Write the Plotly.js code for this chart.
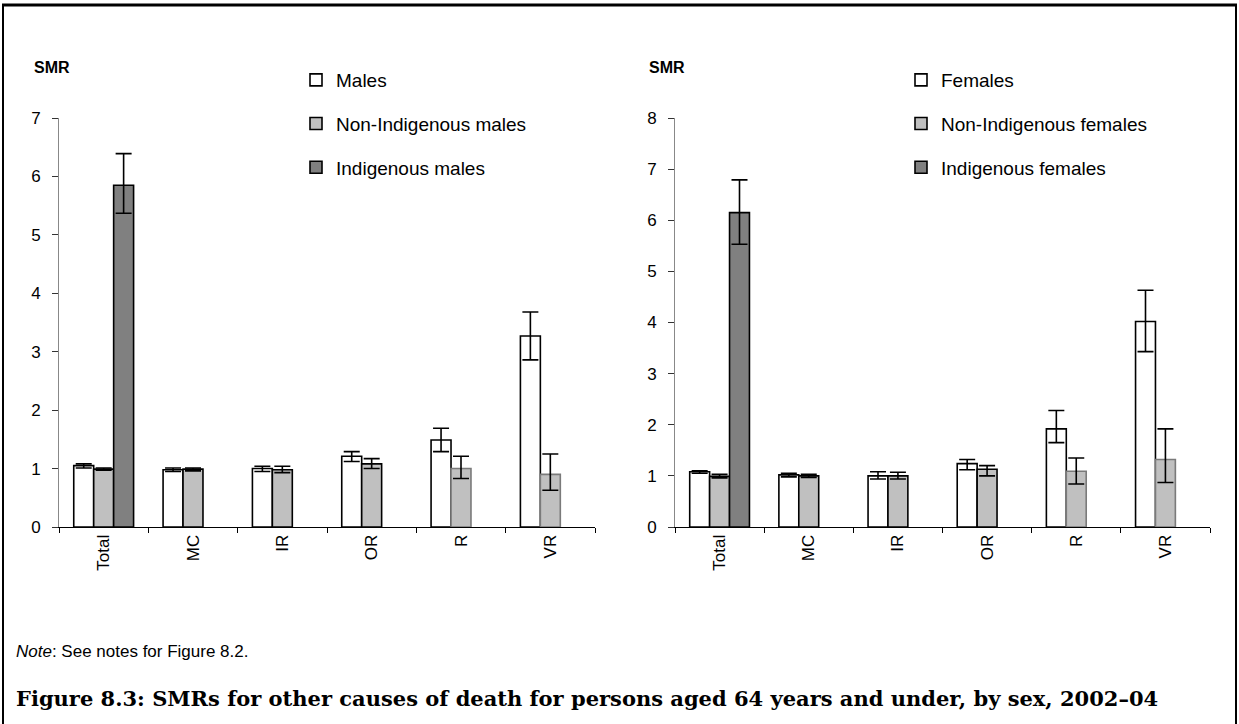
<!DOCTYPE html>
<html>
<head>
<meta charset="utf-8">
<script src="https://cdn.plot.ly/plotly-3.0.1.min.js"></script>
<style>html,body{margin:0;padding:0;background:#fff;}#chart{width:1239px;height:724px;}</style>
</head>
<body>
<div id="chart"></div>
<script>
// ---- data ----
const categories = ['Total', 'MC', 'IR', 'OR', 'R', 'VR'];

// Males panel
const males      = [1.05, 0.98, 1.00, 1.21, 1.49, 3.27];
const malesLo    = [1.01, 0.95, 0.95, 1.12, 1.29, 2.86];
const malesHi    = [1.08, 1.01, 1.04, 1.29, 1.69, 3.68];
const nonIndM    = [0.99, 0.99, 0.98, 1.08, 1.00, 0.90];
const nonIndMLo  = [0.97, 0.96, 0.93, 1.00, 0.83, 0.63];
const nonIndMHi  = [1.01, 1.01, 1.04, 1.17, 1.21, 1.25];
const indM       = [5.85, null, null, null, null, null];
const indMLo     = [5.37, null, null, null, null, null];
const indMHi     = [6.39, null, null, null, null, null];

// Females panel
const females    = [1.08, 1.02, 1.00, 1.24, 1.92, 4.02];
const femalesLo  = [1.05, 0.98, 0.94, 1.12, 1.65, 3.43];
const femalesHi  = [1.10, 1.05, 1.08, 1.32, 2.28, 4.63];
const nonIndF    = [0.99, 1.00, 1.00, 1.13, 1.09, 1.32];
const nonIndFLo  = [0.96, 0.97, 0.94, 1.00, 0.84, 0.87];
const nonIndFHi  = [1.03, 1.03, 1.07, 1.20, 1.35, 1.92];
const indF       = [6.15, null, null, null, null, null];
const indFLo     = [5.53, null, null, null, null, null];
const indFHi     = [6.79, null, null, null, null, null];

// categories whose non-Indigenous estimate is drawn with a light (dashed in original) outline
const lightOutline = ['R', 'VR'];

const seriesNamesM = ['Males', 'Non-Indigenous males', 'Indigenous males'];
const seriesNamesF = ['Females', 'Non-Indigenous females', 'Indigenous females'];

// ---- helpers ----
const up = (v, hi) => v.map((x, i) => x == null ? null : +(hi[i] - x).toFixed(3));
const dn = (v, lo) => v.map((x, i) => x == null ? null : +(x - lo[i]).toFixed(3));
const FONT = 'Liberation Sans, Arial, sans-serif';

function err(v, lo, hi) {
  return {type: 'data', symmetric: false, array: up(v, hi), arrayminus: dn(v, lo),
          color: '#000', thickness: 1.6, width: 8, visible: true};
}
function bar(name, v, lo, hi, fill, xa, ya, leg, grp, lineColors) {
  return {
    type: 'bar', name: name, x: categories, y: v,
    xaxis: xa, yaxis: ya, legend: leg, legendgroup: grp,
    marker: {color: fill, line: {color: lineColors || '#000', width: 1.6}},
    error_y: err(v, lo, hi), hoverinfo: 'x+y'
  };
}
const nonLines = categories.map(c => lightOutline.includes(c) ? '#7a7a7a' : '#000');

const traces = [
  bar(seriesNamesM[0], males, malesLo, malesHi, '#ffffff', 'x', 'y', 'legend', 'm1'),
  bar(seriesNamesM[1], nonIndM, nonIndMLo, nonIndMHi, '#c0c0c0', 'x', 'y', 'legend', 'm2', nonLines),
  bar(seriesNamesM[2], indM, indMLo, indMHi, '#808080', 'x', 'y', 'legend', 'm3'),
  bar(seriesNamesF[0], females, femalesLo, femalesHi, '#ffffff', 'x2', 'y2', 'legend2', 'f1'),
  bar(seriesNamesF[1], nonIndF, nonIndFLo, nonIndFHi, '#c0c0c0', 'x2', 'y2', 'legend2', 'f2', nonLines),
  bar(seriesNamesF[2], indF, indFLo, indFHi, '#808080', 'x2', 'y2', 'legend2', 'f3')
];

const W = 1239, H = 724;
const px = v => v / W, py = v => 1 - v / H;

function xAxis(domain, anchor) {
  return {domain: domain, anchor: anchor, type: 'category', showline: true, linecolor: '#000', linewidth: 1,
          ticks: 'outside', tickson: 'boundaries', ticklen: 5, tickcolor: '#000', tickangle: -90,
          tickfont: {family: FONT, size: 17, color: '#000'}, showgrid: false, zeroline: false,
          automargin: false, fixedrange: true};
}
function yAxis(domain, anchor, max) {
  return {domain: domain, anchor: anchor, range: [0, max], dtick: 1, showline: true, linecolor: '#888',
          linewidth: 1, ticks: 'outside', ticklen: 6, tickcolor: '#333', ticklabelstandoff: 8,
          tickfont: {family: FONT, size: 17, color: '#000'}, showgrid: false, zeroline: false,
          automargin: false, fixedrange: true};
}
function legend(x, y, gap) {
  return {x: x, y: y, xanchor: 'left', yanchor: 'top', bgcolor: 'rgba(0,0,0,0)', borderwidth: 0,
          font: {family: FONT, size: 19, color: '#000'}, traceorder: 'grouped', tracegroupgap: gap,
          itemclick: false, itemdoubleclick: false};
}

const layout = {
  width: W, height: H, margin: {l: 0, r: 0, t: 0, b: 0},
  paper_bgcolor: '#fff', plot_bgcolor: '#fff',
  barmode: 'group', bargap: 0.33, bargroupgap: 0,
  showlegend: true,
  xaxis: xAxis([px(59), px(595)], 'y'),
  yaxis: yAxis([py(527), py(118)], 'x', 7),
  xaxis2: xAxis([px(675), px(1210)], 'y2'),
  yaxis2: yAxis([py(527), py(118)], 'x2', 8),
  legend: legend(px(296), py(61), 16),
  legend2: legend(px(901), py(61), 16),
  annotations: [
    {text: '<b>SMR</b>', xref: 'paper', yref: 'paper', x: px(32), y: py(68), xanchor: 'left', yanchor: 'middle',
     showarrow: false, font: {family: FONT, size: 16, color: '#000'}},
    {text: '<b>SMR</b>', xref: 'paper', yref: 'paper', x: px(647), y: py(68), xanchor: 'left', yanchor: 'middle',
     showarrow: false, font: {family: FONT, size: 16, color: '#000'}},
    {text: '<i>Note</i>: See notes for Figure 8.2.', xref: 'paper', yref: 'paper', x: px(14), y: py(651),
     xanchor: 'left', yanchor: 'middle', showarrow: false, font: {family: FONT, size: 17, color: '#000'}},
    {text: '<b>Figure 8.3: SMRs for other causes of death for persons aged 64 years and under, by sex, 2002–04</b>',
     xref: 'paper', yref: 'paper', x: px(14), y: py(698), xanchor: 'left', yanchor: 'middle', showarrow: false,
     font: {family: 'DejaVu Serif, serif', size: 21, color: '#000'}}
  ],
  shapes: [
    {type: 'line', xref: 'paper', yref: 'paper', x0: px(2), x1: px(1237), y0: py(5), y1: py(5), line: {color: '#000', width: 3}},
    {type: 'line', xref: 'paper', yref: 'paper', x0: px(3), x1: px(3), y0: py(4), y1: 0, line: {color: '#000', width: 2}},
    {type: 'line', xref: 'paper', yref: 'paper', x0: px(1236), x1: px(1236), y0: py(4), y1: 0, line: {color: '#000', width: 2}}
  ]
};

Plotly.newPlot('chart', traces, layout, {displayModeBar: false, staticPlot: true});
</script>
</body>
</html>
